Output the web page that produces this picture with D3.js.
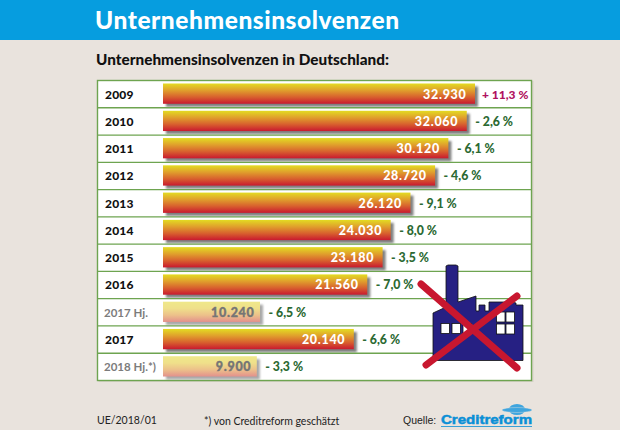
<!DOCTYPE html>
<html><head><meta charset="utf-8">
<script src="https://cdnjs.cloudflare.com/ajax/libs/d3/7.8.5/d3.min.js"></script>
<style>html,body{margin:0;padding:0;background:#e9e3dd}svg{display:block}text{font-family:Lato,sans-serif}</style>
</head><body><svg id="c" width="620" height="430"></svg>
<script>
const categories=["2009","2010","2011","2012","2013","2014","2015","2016","2017 Hj.","2017","2018 Hj.*)"];
const values=[32930,32060,30120,28720,26120,24030,23180,21560,10240,20140,9900];
const changes=["+ 11,3 %","- 2,6 %","- 6,1 %","- 4,6 %","- 9,1 %","- 8,0 %","- 3,5 %","- 7,0 %","- 6,5 %","- 6,6 %","- 3,3 %"];
const halfYear=[false,false,false,false,false,false,false,false,true,false,true];
const fmt=v=>String(v).replace(/(\d)(\d{3})$/,"$1.$2");
const svg=d3.select("#c");
const defs=svg.append("defs");
function grad(id,a,b){const g=defs.append("linearGradient").attr("id",id).attr("x1",0).attr("y1",0).attr("x2",0).attr("y2",1);
 a.forEach((c,i)=>g.append("stop").attr("offset",i/(a.length-1)).attr("stop-color",c));}
grad("full",["#e3dc22","#e0a02c","#d8602e","#c9192f"]);
grad("half",["#efe88a","#efe08a","#ecc08a","#e3908c"]);
defs.append("filter").attr("id","blur").append("feGaussianBlur").attr("stdDeviation",0.8);

svg.append("rect").attr("width",620).attr("height",430).attr("fill","#e9e3dd");
svg.append("rect").attr("width",620).attr("height",40).attr("fill","#069ddf");
svg.append("text").attr("x",95).attr("y",29).attr("fill","#fff").attr("font-size",24.5).attr("font-weight",900).style("letter-spacing","0.56px").text("Unternehmensinsolvenzen");
svg.append("text").attr("x",96).attr("y",65).attr("fill","#111").attr("font-size",15.3).attr("font-weight",900).style("letter-spacing","0.02px").text("Unternehmensinsolvenzen in Deutschland:");

const y=d3.scaleBand().domain(categories).range([80.5,380.5]);
const x=d3.scaleLinear().domain([0,32930]).range([163,475]);
const PL=97.5,PR=531.5;
svg.append("rect").attr("x",PL+1).attr("y",81).attr("width",PR-PL+1).attr("height",301).attr("fill","#d8d3c8");
svg.append("rect").attr("x",PL).attr("y",80.5).attr("width",PR-PL).attr("height",300).attr("fill","#fff");

const rows=svg.selectAll("g.row").data(categories).join("g").attr("class","row");
rows.append("rect").attr("x",x(0)+3).attr("y",c=>y(c)+6).attr("height",y.bandwidth()-7)
 .attr("width",(c,i)=>x(values[i])-x(0)).attr("fill",(c,i)=>halfYear[i]?"#a8a8a8":"#7f7f7f").attr("filter","url(#blur)");
rows.append("rect").attr("x",x(0)).attr("y",c=>y(c)+3).attr("height",y.bandwidth()-7)
 .attr("width",(c,i)=>x(values[i])-x(0)).attr("fill",(c,i)=>halfYear[i]?"url(#half)":"url(#full)");
rows.append("text").attr("x",c=>c.length>4?104:105).attr("y",c=>y(c)+18).attr("font-size",(c,i)=>halfYear[i]?11.5:12).attr("font-weight",(c,i)=>halfYear[i]?700:900)
 .attr("fill",(c,i)=>halfYear[i]?"#7c7c7c":"#111").style("letter-spacing",(c,i)=>halfYear[i]?"0px":"0.2px").text(c=>c);
rows.append("text").attr("x",(c,i)=>x(values[i])-(halfYear[i]?5.5:8.5)).attr("y",c=>y(c)+18).attr("text-anchor","end").attr("font-size",12.5).attr("font-weight",900)
 .style("letter-spacing","0.7px").attr("fill",(c,i)=>halfYear[i]?"#757575":"#fff").attr("stroke",(c,i)=>halfYear[i]?"#757575":"none").attr("stroke-width",.35).text((c,i)=>fmt(values[i]));
rows.append("text").attr("x",(c,i)=>x(values[i])+(i==0?7:8.5)).attr("y",c=>y(c)+18).attr("font-size",(c,i)=>i==0?12:12.3).attr("font-weight",900)
 .attr("fill",(c,i)=>i==0?"#b0115e":"#2c6a33").text((c,i)=>changes[i]);

svg.selectAll("line.sep").data(categories.slice(1)).join("line").attr("class","sep")
 .attr("x1",PL).attr("x2",PR).attr("y1",c=>y(c)).attr("y2",c=>y(c)).attr("stroke","#6ea450").attr("stroke-width",1.3);
svg.append("rect").attr("x",PL).attr("y",80.5).attr("width",PR-PL).attr("height",300).attr("fill","none").attr("stroke","#6ea450").attr("stroke-width",1.4);

const pt=p=>p.map(a=>a.join(",")).join(" ");
const fac=svg.append("g");
fac.append("polygon").attr("points",pt([[433,313],[446,307],[446,266],[448,265],[456,265],[458,266],[458,302],[476,296],[476,311],[479,311],[479,305],[485,305],[485,311],[489,311],[489,302],[512,302],[516,303],[516,305],[523,305],[523,360.5],[433,360.5]]))
 .attr("fill","#262083").attr("stroke","#111").attr("stroke-width",.8);
[[441,323.5],[452,323.5],[463,323.5],[496.5,312],[506,312],[496.5,324],[506,324]].forEach(w=>fac.append("rect").attr("x",w[0]).attr("y",w[1]).attr("width",8.5).attr("height",10).attr("fill","#fff").attr("stroke","#111").attr("stroke-width",.8));
[[421,284,517,368],[517,296,426,365]].forEach(l=>svg.append("line").attr("x1",l[0]).attr("y1",l[1]).attr("x2",l[2]).attr("y2",l[3]).attr("stroke","#c8172f").attr("stroke-width",7).attr("stroke-linecap","round"));

svg.append("text").attr("x",97).attr("y",424).attr("font-size",10.5).attr("fill","#222").text("UE/2018/01");
svg.append("text").attr("x",204).attr("y",424.5).attr("font-size",10.5).attr("fill","#222").text("*) von Creditreform geschätzt");
svg.append("text").attr("x",403).attr("y",424).attr("font-size",10.5).attr("fill","#222").style("font-family","'Liberation Sans'").text("Quelle:");
svg.append("text").attr("x",441).attr("y",424).attr("font-size",13).attr("font-weight",700).attr("fill","#0a8fd6").attr("stroke","#0a8fd6").attr("stroke-width",.5).style("font-family","'Liberation Sans'").attr("textLength",91).attr("lengthAdjust","spacingAndGlyphs").text("Creditreform");
svg.append("line").attr("x1",441).attr("x2",532).attr("y1",426.5).attr("y2",426.5).attr("stroke","#0a8fd6").attr("stroke-width",.8);
svg.append("ellipse").attr("cx",517).attr("cy",409.5).attr("rx",8).attr("ry",5.5).attr("fill","#3fa5de");
svg.append("ellipse").attr("cx",517).attr("cy",410).attr("rx",15).attr("ry",2.5).attr("fill","#3fa5de").attr("stroke","#e9e3dd").attr("stroke-width",.4);
</script></body></html>
